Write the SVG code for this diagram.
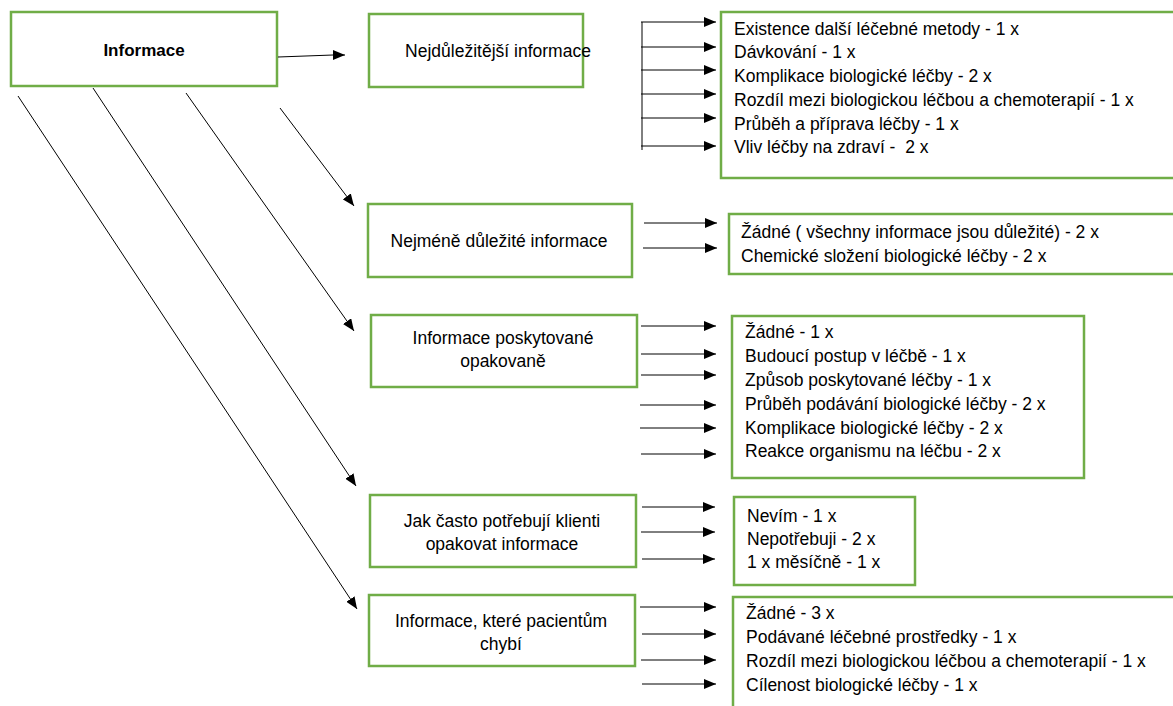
<svg xmlns="http://www.w3.org/2000/svg" width="1173" height="706" viewBox="0 0 1173 706">
<style>
.box{fill:#fff;stroke:#70AD47;stroke-width:2.5}
.t{font-family:"Liberation Sans",Arial,sans-serif;font-size:17.5px;fill:#000}
.c{text-anchor:middle}
.b{font-weight:bold;font-size:17px}
.ln{fill:none;stroke:#000;stroke-width:1;marker-end:url(#ah)}
.pl{fill:none;stroke:#000;stroke-width:1}
</style>
<defs>
<marker id="ah" markerUnits="userSpaceOnUse" markerWidth="12" markerHeight="10" refX="12" refY="5" orient="auto">
<path d="M0,0 L12,5 L0,10 z" fill="#000"/>
</marker>
</defs>
<rect width="1173" height="706" fill="#fff"/>

<g id="n-informace">
<rect class="box" x="11" y="12" width="266" height="74"/>
<text class="t c b" x="144" y="56">Informace</text>
</g>

<g id="n-nejdulezitejsi">
<rect class="box" x="369" y="14" width="214" height="73"/>
<text class="t c" x="498" y="57">Nejdůležitější informace</text>
</g>

<g id="n-list1">
<rect class="box" x="721" y="12" width="470" height="166"/>
<text class="t" x="734" y="35">Existence další léčebné metody - 1 x</text>
<text class="t" x="734" y="58">Dávkování - 1 x</text>
<text class="t" x="734" y="82">Komplikace biologické léčby - 2 x</text>
<text class="t" x="734" y="106">Rozdíl mezi biologickou léčbou a chemoterapií - 1 x</text>
<text class="t" x="734" y="130">Průběh a příprava léčby - 1 x</text>
<text class="t" x="734" y="153" style="white-space:pre">Vliv léčby na zdraví -  2 x</text>
</g>

<g id="n-nejmene">
<rect class="box" x="368" y="204" width="264" height="73"/>
<text class="t c" x="499" y="247">Nejméně důležité informace</text>
</g>

<g id="n-list2">
<rect class="box" x="729" y="214" width="460" height="60"/>
<text class="t" x="741" y="238">Žádné ( všechny informace jsou důležité) - 2 x</text>
<text class="t" x="741" y="262">Chemické složení biologické léčby - 2 x</text>
</g>

<g id="n-opakovane">
<rect class="box" x="371" y="315" width="266" height="72"/>
<text class="t c" x="503" y="344">Informace poskytované</text>
<text class="t c" x="503" y="367">opakovaně</text>
</g>

<g id="n-list3">
<rect class="box" x="732" y="316" width="352" height="162"/>
<text class="t" x="745" y="338">Žádné - 1 x</text>
<text class="t" x="745" y="362">Budoucí postup v léčbě - 1 x</text>
<text class="t" x="745" y="386">Způsob poskytované léčby - 1 x</text>
<text class="t" x="745" y="410">Průběh podávání biologické léčby - 2 x</text>
<text class="t" x="745" y="434">Komplikace biologické léčby - 2 x</text>
<text class="t" x="745" y="457">Reakce organismu na léčbu - 2 x</text>
</g>

<g id="n-jakcasto">
<rect class="box" x="370" y="495" width="266" height="72"/>
<text class="t c" x="502" y="527">Jak často potřebují klienti</text>
<text class="t c" x="502" y="550">opakovat informace</text>
</g>

<g id="n-list4">
<rect class="box" x="734" y="497" width="181" height="88"/>
<text class="t" x="747" y="522">Nevím - 1 x</text>
<text class="t" x="747" y="545">Nepotřebuji - 2 x</text>
<text class="t" x="747" y="568">1 x měsíčně - 1 x</text>
</g>

<g id="n-chybi">
<rect class="box" x="369" y="595" width="266" height="71"/>
<text class="t c" x="501" y="627">Informace, které pacientům</text>
<text class="t c" x="501" y="650">chybí</text>
</g>

<g id="n-list5">
<rect class="box" x="733" y="597" width="460" height="130"/>
<text class="t" x="746" y="619">Žádné - 3 x</text>
<text class="t" x="746" y="643">Podávané léčebné prostředky - 1 x</text>
<text class="t" x="746" y="667">Rozdíl mezi biologickou léčbou a chemoterapií - 1 x</text>
<text class="t" x="746" y="691">Cílenost biologické léčby - 1 x</text>
</g>

<g id="connectors">
<polyline class="ln" points="278,57 333,55 345,55"/>
<line class="ln" x1="280" y1="108" x2="354" y2="206"/>
<line class="ln" x1="186" y1="93" x2="354" y2="331"/>
<line class="ln" x1="93" y1="88" x2="356" y2="486"/>
<line class="ln" x1="18" y1="96" x2="357" y2="609"/>

<line class="pl" x1="642" y1="22" x2="642" y2="150"/>
<line class="ln" x1="641" y1="22" x2="716" y2="22"/>
<line class="ln" x1="641" y1="47" x2="716" y2="47"/>
<line class="ln" x1="641" y1="70" x2="716" y2="70"/>
<line class="ln" x1="641" y1="94" x2="716" y2="94"/>
<line class="ln" x1="641" y1="118" x2="716" y2="118"/>
<line class="ln" x1="641" y1="146" x2="716" y2="146"/>

<line class="ln" x1="644" y1="223" x2="717" y2="223"/>
<line class="ln" x1="643" y1="248" x2="717" y2="248"/>

<line class="ln" x1="641" y1="326" x2="716" y2="326"/>
<line class="ln" x1="641" y1="354" x2="716" y2="354"/>
<line class="ln" x1="641" y1="375" x2="716" y2="375"/>
<line class="ln" x1="640" y1="405" x2="716" y2="405"/>
<line class="ln" x1="640" y1="428" x2="716" y2="428"/>
<line class="ln" x1="641" y1="454" x2="716" y2="454"/>

<line class="ln" x1="642" y1="507" x2="715" y2="507"/>
<line class="ln" x1="641" y1="532" x2="715" y2="532"/>
<line class="ln" x1="642" y1="559" x2="715" y2="559"/>

<line class="ln" x1="640" y1="607" x2="716" y2="607"/>
<line class="ln" x1="642" y1="634" x2="716" y2="634"/>
<line class="ln" x1="641" y1="660" x2="716" y2="660"/>
<line class="ln" x1="642" y1="684" x2="716" y2="684"/>
</g>
</svg>
